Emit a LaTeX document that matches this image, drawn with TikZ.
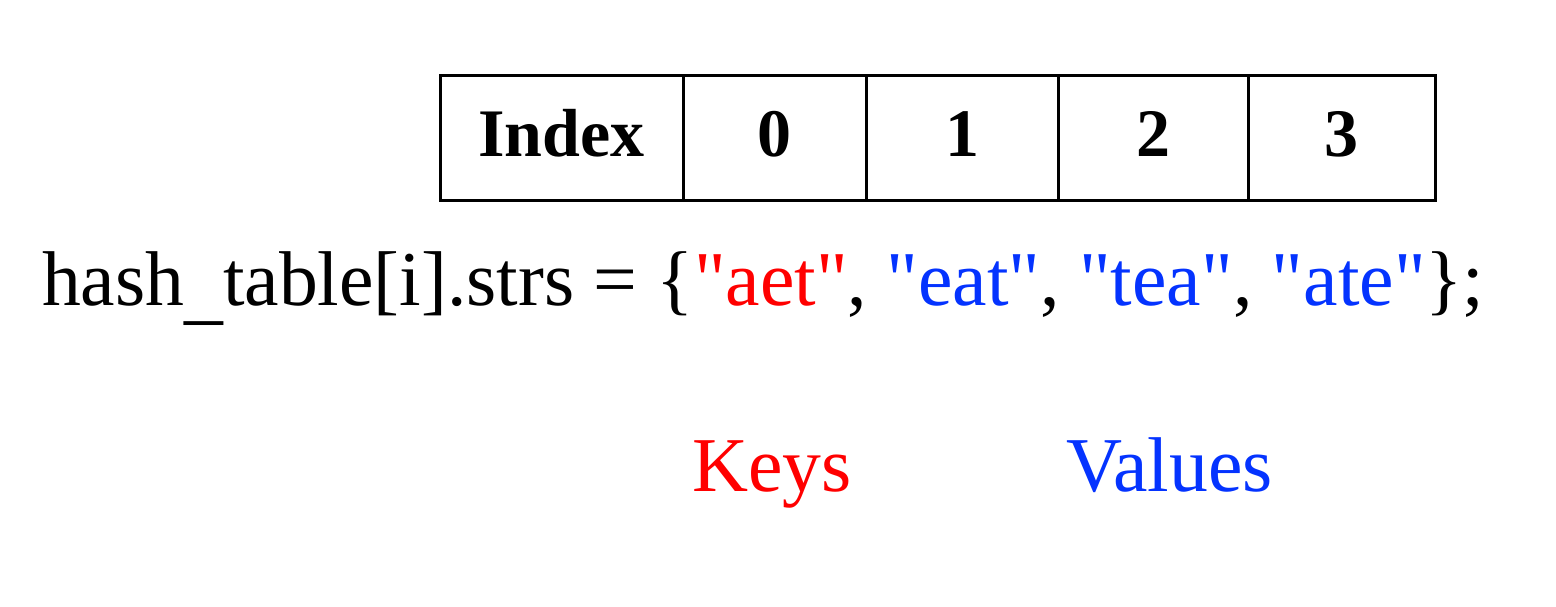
\documentclass[tikz,border=0pt]{standalone}
\usepackage{fontspec}
\setmainfont{Liberation Serif}[Ligatures=TeXOff]
\definecolor{keyred}{RGB}{255,0,0}
\definecolor{valblue}{RGB}{4,51,255}
\newcommand{\sq}{\char34\relax}
\newcommand{\lowus}{\raisebox{-5pt}{\_}}
\begin{document}
\begin{tikzpicture}[x=0.5pt,y=-0.5pt,
  cell/.style={draw=black, line width=1.5pt, rectangle, inner sep=0pt, outer sep=0pt,
    minimum height=62.5pt, font=\fontsize{34}{40}\selectfont\bfseries,
    text height=23pt, text depth=4.5pt},
  bigtext/.style={inner sep=0pt, outer sep=0pt, anchor=base west, font=\fontsize{38.8}{46}\selectfont}]
\useasboundingbox (0,0) rectangle (1556,606);
\node[cell, minimum width=121.5pt] (cidx) at (561.5,137.5) {Index};
\node[cell, minimum width=91.5pt] (c0) at (774.5,137.5) {0};
\node[cell, minimum width=96pt] (c1) at (962,137.5) {1};
\node[cell, minimum width=95pt] (c2) at (1153,137.5) {2};
\node[cell, minimum width=93.5pt] (c3) at (1341.5,137.5) {3};
\node[bigtext] (code) at (42,305) {hash\lowus table[i].strs = \{\textcolor{keyred}{\sq aet\sq}, \textcolor{valblue}{\sq eat\sq}, \textcolor{valblue}{\sq tea\sq}, \textcolor{valblue}{\sq ate\sq}\};};
\node[bigtext, text=keyred] (keys) at (692,491) {Keys};
\node[bigtext, text=valblue] (vals) at (1066,491) {Values};
\end{tikzpicture}
\end{document}
